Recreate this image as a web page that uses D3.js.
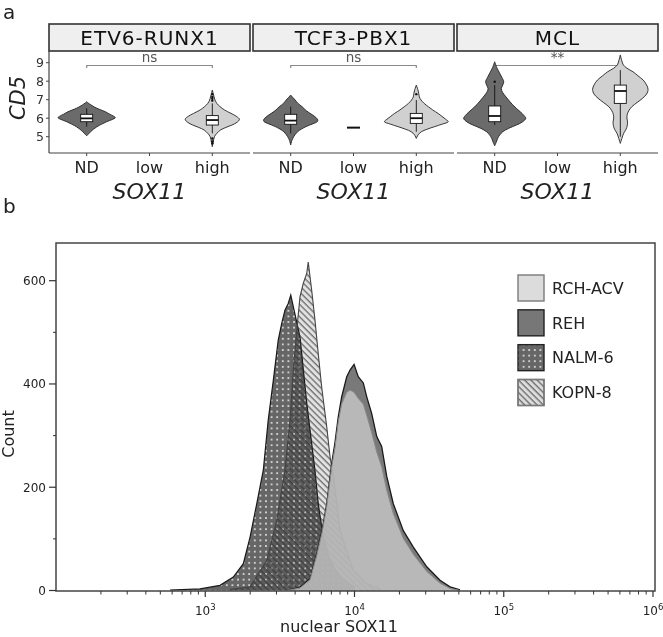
<!DOCTYPE html>
<html><head><meta charset="utf-8">
<script src="https://cdn.jsdelivr.net/npm/d3@7"></script>
<style>body{margin:0;background:#fff}svg{display:block}</style>
</head><body>
<svg id="c" width="663" height="637"></svg>
<script>
// ---------- Panel a data ----------
const panels = ["ETV6-RUNX1", "TCF3-PBX1", "MCL"];
const groups = ["ND", "low", "high"];
const yTicksA = [5, 6, 7, 8, 9];
// violin profiles: [CD5 value, relative half-width]
const vEtvND = [[5.05,0],[5.15,0.06],[5.27,0.13],[5.4,0.22],[5.54,0.34],[5.68,0.5],[5.81,0.66],[5.93,0.85],[6.03,0.95],[6.12,0.88],[6.22,0.76],[6.35,0.62],[6.48,0.42],[6.6,0.26],[6.72,0.14],[6.82,0.05],[6.89,0]];
const vEtvHigh = [[4.46,0],[4.7,0.03],[5.0,0.07],[5.18,0.15],[5.36,0.27],[5.5,0.45],[5.63,0.65],[5.78,0.82],[5.94,0.9],[6.1,0.8],[6.26,0.62],[6.45,0.4],[6.62,0.26],[6.8,0.15],[6.98,0.09],[7.2,0.05],[7.52,0]];
const vTcfND = [[4.55,0],[4.8,0.04],[5.0,0.1],[5.27,0.23],[5.54,0.5],[5.7,0.74],[5.81,0.88],[5.9,0.9],[6.0,0.86],[6.17,0.73],[6.4,0.52],[6.62,0.38],[6.8,0.24],[6.98,0.15],[7.1,0.08],[7.25,0]];
const vTcfHigh = [[4.91,0],[5.1,0.06],[5.27,0.17],[5.4,0.35],[5.54,0.6],[5.68,0.86],[5.81,1.06],[5.95,0.97],[6.1,0.85],[6.26,0.72],[6.45,0.54],[6.62,0.4],[6.8,0.26],[6.98,0.16],[7.15,0.1],[7.35,0.08],[7.55,0.05],[7.79,0]];
const vMclND = [[4.51,0],[4.7,0.05],[4.91,0.1],[5.1,0.17],[5.27,0.27],[5.45,0.46],[5.63,0.72],[5.8,0.92],[5.99,1.03],[6.15,0.97],[6.33,0.86],[6.53,0.72],[6.75,0.58],[6.98,0.46],[7.2,0.35],[7.4,0.26],[7.6,0.22],[7.8,0.27],[7.98,0.3],[8.2,0.24],[8.45,0.16],[8.7,0.08],[9.05,0]];
const vMclHigh = [[4.64,0],[4.9,0.05],[5.18,0.11],[5.4,0.19],[5.6,0.23],[5.8,0.24],[6.0,0.22],[6.2,0.23],[6.4,0.28],[6.62,0.38],[6.85,0.56],[7.08,0.74],[7.3,0.87],[7.56,0.92],[7.8,0.87],[8.06,0.76],[8.3,0.58],[8.51,0.42],[8.7,0.22],[8.88,0.1],[9.1,0.05],[9.42,0]];
const violinPanel = ["ETV6-RUNX1","ETV6-RUNX1","TCF3-PBX1","TCF3-PBX1","MCL","MCL"];
const violinGroup = ["ND","high","ND","high","ND","high"];
const violinShape = [vEtvND, vEtvHigh, vTcfND, vTcfHigh, vMclND, vMclHigh];
// box stats: [lowerWhisker, Q1, median, Q3, upperWhisker]
const boxEtvND = [5.54, 5.81, 5.99, 6.21, 6.53];
const boxEtvHigh = [5.18, 5.63, 5.90, 6.14, 6.80];
const boxTcfND = [5.18, 5.67, 5.87, 6.21, 6.62];
const boxTcfHigh = [5.27, 5.72, 6.00, 6.26, 6.98];
const boxMclND = [5.63, 5.81, 6.12, 6.66, 7.79];
const boxMclHigh = [5.0, 6.80, 7.47, 7.79, 8.60];
const boxStats = [boxEtvND, boxEtvHigh, boxTcfND, boxTcfHigh, boxMclND, boxMclHigh];
const outEtvHigh = [6.95, 7.05, 7.15, 7.3, 4.9, 4.75, 4.65];
const outTcfHigh = [7.3];
const outMclND = [7.97];
const outliers = [[], outEtvHigh, [], outTcfHigh, outMclND, []];
const tcfLowValue = 5.49;
const sigLabels = ["ns", "ns", "**"];
const sigY = 8.85;

// ---------- Panel b data ----------
const series = ["RCH-ACV", "REH", "NALM-6", "KOPN-8"];
const nalmX = [581,923,1256,1542,1799,1995,2213,2449,2642,2858,3083,3251,3420,3597,3741,3890,4315,4786,5433,5715,6180,6855,7998,10069];
const nalmY = [1,3,10,26,52,103,168,233,330,407,485,517,543,556,572,550,491,363,233,168,103,58,25,6];
const kopnX = [1466,1995,2582,3013,3420,3698,3890,4102,4315,4539,4786,4898,5164,5433,5715,6026,6516,6855,7295,7998,9817,12078,14825];
const kopnY = [2,7,58,136,233,330,427,504,569,595,614,636,582,524,459,394,317,259,214,116,39,13,3];
const rehX = [3698,4315,5035,5585,6053,6516,7031,7396,7780,8204,8872,9333,9931,10593,11455,12078,13032,14093,15205,16444,18197,21232,24774,30479,37411,43652,50933];
const rehY = [1,6,23,71,116,168,246,286,336,375,414,427,438,414,402,375,343,298,279,221,168,116,84,46,20,7,1];
const rchX = rehX;
const rchY = [1,5,21,68,112,163,239,276,326,361,384,388,384,372,361,339,306,268,240,194,149,101,70,37,14,4,0];
const yTicksB = [0, 200, 400, 600];
const yMinorB = [100, 300, 500];
const xMajorB = [1e3, 1e4, 1e5, 1e6];
const xExpB = ["3", "4", "5", "6"];

// ---------- drawing ----------
const svg = d3.select("#c");
const FA = "DejaVu Sans, Verdana, sans-serif";
const defs = svg.append("defs");
const pd = defs.append("pattern").attr("id","dots").attr("patternUnits","userSpaceOnUse").attr("width",5.6).attr("height",5.6);
pd.append("rect").attr("width",5.6).attr("height",5.6).attr("fill","#666");
pd.append("circle").attr("cx",2.8).attr("cy",2.8).attr("r",0.85).attr("fill","#fff");
const ph = defs.append("pattern").attr("id","hatch").attr("patternUnits","userSpaceOnUse").attr("width",4.4).attr("height",4.4).attr("patternTransform","rotate(-45)");
ph.append("line").attr("x1",1).attr("y1",-1).attr("x2",1).attr("y2",6).attr("stroke","#333").attr("stroke-width",0.9);

// panel labels
svg.append("text").attr("x",3).attr("y",19).text("a").attr("font-family",FA).attr("font-size",20).attr("fill","#222");
svg.append("text").attr("x",3).attr("y",213).text("b").attr("font-family",FA).attr("font-size",20).attr("fill","#222");

// panel a scales
const px = d3.scaleBand().domain(panels).range([49, 658]).paddingInner(3/204);
const gx = d3.scalePoint().domain(groups).range([0, px.bandwidth()]).padding(0.6);
const ya = d3.scaleLinear().domain([5, 9]).range([136.7, 62.7]);
const halfW = gx.step() * 0.48;
const aTop = 51, aBot = 153;

panels.forEach((p, i) => {
  const x0 = px(p);
  const g = svg.append("g").attr("transform", `translate(${x0},0)`);
  g.append("rect").attr("x",0).attr("y",24).attr("width",px.bandwidth()).attr("height",27)
    .attr("fill","#efefef").attr("stroke","#333").attr("stroke-width",1.6);
  g.append("text").attr("x",px.bandwidth()/2).attr("y",45).attr("text-anchor","middle")
    .attr("font-family",FA).attr("font-size",20).attr("letter-spacing",1).attr("fill","#111").text(p);
  g.append("line").attr("x1",0).attr("x2",px.bandwidth()).attr("y1",aBot).attr("y2",aBot).attr("stroke","#444").attr("stroke-width",1.2);
  groups.forEach(gr => {
    g.append("line").attr("x1",gx(gr)).attr("x2",gx(gr)).attr("y1",aBot).attr("y2",aBot+3).attr("stroke","#444");
    g.append("text").attr("x",gx(gr)).attr("y",173).attr("text-anchor","middle").attr("font-family",FA)
      .attr("font-size",16).attr("fill","#222").text(gr);
  });
  g.append("text").attr("x",px.bandwidth()/2).attr("y",199).attr("text-anchor","middle").attr("font-family",FA)
    .attr("font-size",22).attr("font-style","italic").attr("fill","#222").text("SOX11");
  const bx1 = gx("ND"), bx2 = gx("high"), by = ya(sigY);
  g.append("path").attr("d",`M${bx1},${by+2.5}V${by}H${bx2}V${by+2.5}`).attr("fill","none").attr("stroke","#8a8a8a").attr("stroke-width",1.2);
  g.append("text").attr("x",(bx1+bx2)/2).attr("y",by-3).attr("text-anchor","middle").attr("font-family",FA)
    .attr("font-size",13.5).attr("fill","#555").text(sigLabels[i]);
});

svg.append("line").attr("x1",49).attr("x2",49).attr("y1",aTop).attr("y2",aBot).attr("stroke","#444").attr("stroke-width",1.2);
yTicksA.forEach(t => {
  svg.append("line").attr("x1",46).attr("x2",49).attr("y1",ya(t)).attr("y2",ya(t)).attr("stroke","#444");
  svg.append("text").attr("x",44).attr("y",ya(t)).attr("dy","0.36em").attr("text-anchor","end").attr("font-family",FA)
    .attr("font-size",12.5).attr("fill","#333").text(t);
});
svg.append("text").attr("transform","translate(25,98) rotate(-90)").attr("text-anchor","middle").attr("font-family",FA)
  .attr("font-size",21).attr("font-style","italic").attr("fill","#222").text("CD5");

const fills = {ND:"#6b6b6b", high:"#d0d0d0"};
violinShape.forEach((shape, k) => {
  const cx = px(violinPanel[k]) + gx(violinGroup[k]);
  const area = d3.area().y(d => ya(d[0])).x0(d => cx - d[1]*halfW).x1(d => cx + d[1]*halfW).curve(d3.curveCatmullRom);
  svg.append("path").attr("d", area(shape)).attr("fill", fills[violinGroup[k]]).attr("stroke","#222").attr("stroke-width",0.9);
  const b = boxStats[k];
  svg.append("line").attr("x1",cx).attr("x2",cx).attr("y1",ya(b[0])).attr("y2",ya(b[4])).attr("stroke","#111").attr("stroke-width",0.9);
  svg.append("rect").attr("x",cx-6).attr("width",12).attr("y",ya(b[3])).attr("height",ya(b[1])-ya(b[3]))
    .attr("fill","#fff").attr("stroke","#111").attr("stroke-width",0.9);
  svg.append("line").attr("x1",cx-6).attr("x2",cx+6).attr("y1",ya(b[2])).attr("y2",ya(b[2])).attr("stroke","#111").attr("stroke-width",1.8);
  outliers[k].forEach(o => svg.append("circle").attr("cx",cx).attr("cy",ya(o)).attr("r",1.2).attr("fill","#111"));
});
{
  const cx = px("TCF3-PBX1") + gx("low");
  svg.append("line").attr("x1",cx-6.5).attr("x2",cx+6.5).attr("y1",ya(tcfLowValue)).attr("y2",ya(tcfLowValue)).attr("stroke","#111").attr("stroke-width",2);
}

// ---------- panel b ----------
const xb = d3.scaleLog().domain([100, 1e6]).range([56, 653]);
const yb = d3.scaleLinear().domain([0, 673]).range([590.5, 243]);
const areaB = d3.area().x(d => xb(d[0])).y0(yb(0)).y1(d => yb(d[1])).curve(d3.curveLinear);
const lineB = d3.line().x(d => xb(d[0])).y(d => yb(d[1])).curve(d3.curveLinear);
const nalm = d3.zip(nalmX, nalmY), kopn = d3.zip(kopnX, kopnY), reh = d3.zip(rehX, rehY), rch = d3.zip(rchX, rchY);

svg.append("path").attr("d", areaB(nalm)).attr("fill","url(#dots)");
svg.append("path").attr("d", lineB(nalm)).attr("fill","none").attr("stroke","#1a1a1a").attr("stroke-width",1.2);
svg.append("path").attr("d", areaB(kopn)).attr("fill","#e2e2e2").style("mix-blend-mode","multiply");
svg.append("path").attr("d", areaB(kopn)).attr("fill","url(#hatch)");
svg.append("path").attr("d", lineB(kopn)).attr("fill","none").attr("stroke","#444").attr("stroke-width",1.1);
svg.append("path").attr("d", areaB(reh)).attr("fill","#666").attr("fill-opacity",0.88);
svg.append("path").attr("d", lineB(reh)).attr("fill","none").attr("stroke","#1a1a1a").attr("stroke-width",1.3);
svg.append("path").attr("d", areaB(rch)).attr("fill","#dedede").attr("fill-opacity",0.62);
svg.append("path").attr("d", lineB(rch)).attr("fill","none").attr("stroke","#8a8a8a").attr("stroke-width",1);

svg.append("rect").attr("x",56).attr("y",243).attr("width",599).attr("height",348).attr("fill","none").attr("stroke","#444").attr("stroke-width",1.5);

yTicksB.forEach(t => {
  svg.append("line").attr("x1",49).attr("x2",56).attr("y1",yb(t)).attr("y2",yb(t)).attr("stroke","#333").attr("stroke-width",1.2);
  svg.append("text").attr("x",46).attr("y",yb(t)).attr("dy","0.36em").attr("text-anchor","end").attr("font-family",FA)
    .attr("font-size",12).attr("fill","#222").text(t);
});
yMinorB.forEach(t => svg.append("line").attr("x1",53).attr("x2",56).attr("y1",yb(t)).attr("y2",yb(t)).attr("stroke","#333"));
svg.append("text").attr("transform","translate(14,434) rotate(-90)").attr("text-anchor","middle").attr("font-family",FA)
  .attr("font-size",16).attr("fill","#222").text("Count");

const minors = [];
[100, 1000, 10000, 100000].forEach(d => { for (let m = 2; m <= 9; m++) minors.push(d*m); });
minors.forEach(v => svg.append("line").attr("x1",xb(v)).attr("x2",xb(v)).attr("y1",591).attr("y2",594.5).attr("stroke","#333"));
xMajorB.forEach((v, i) => {
  svg.append("line").attr("x1",xb(v)).attr("x2",xb(v)).attr("y1",591).attr("y2",597).attr("stroke","#333").attr("stroke-width",1.2);
  const t = svg.append("text").attr("x",xb(v)).attr("y",615).attr("text-anchor","middle").attr("font-family",FA)
    .attr("font-size",12).attr("fill","#222");
  t.append("tspan").text("10");
  t.append("tspan").attr("dy",-5).attr("font-size",8.5).text(xExpB[i]);
});
svg.append("text").attr("x",339).attr("y",632).attr("text-anchor","middle").attr("font-family",FA)
  .attr("font-size",16).attr("fill","#222").text("nuclear SOX11");

const legFill = {"RCH-ACV":"#dcdcdc", "REH":"#777", "NALM-6":"url(#dots)", "KOPN-8":"#dcdcdc"};
const legStroke = {"RCH-ACV":"#7a7a7a", "REH":"#222", "NALM-6":"#222", "KOPN-8":"#7a7a7a"};
const ly = d3.scalePoint().domain(series).range([275, 379.5]);
series.forEach(s => {
  svg.append("rect").attr("x",518).attr("y",ly(s)).attr("width",26).attr("height",26).attr("fill",legFill[s]).attr("stroke",legStroke[s]).attr("stroke-width",1.4);
  if (s === "KOPN-8") svg.append("rect").attr("x",518).attr("y",ly(s)).attr("width",26).attr("height",26).attr("fill","url(#hatch)").attr("stroke",legStroke[s]).attr("stroke-width",1.4);
  svg.append("text").attr("x",552).attr("y",ly(s)+13).attr("dy","0.36em").attr("font-family",FA).attr("font-size",16).attr("fill","#222").text(s);
});
</script>
</body></html>
